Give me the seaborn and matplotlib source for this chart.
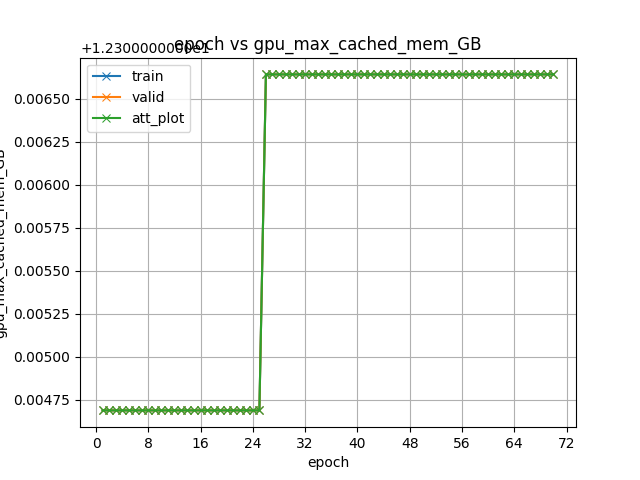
import math
import numpy as np
import pandas as pd
import matplotlib
matplotlib.use("Agg")
import matplotlib.pyplot as plt
import seaborn as sns
from matplotlib.ticker import MaxNLocator, ScalarFormatter

epochs = list(range(1, 71))
train = [12.3046875] * 25 + [12.306640625] * 45
valid = [12.3046875] * 25 + [12.306640625] * 45
att_plot = [12.3046875] * 25 + [12.306640625] * 45


class OldOffsetFormatter(ScalarFormatter):
    # offset string as written by older matplotlib releases ("%1.10f" significand)
    def format_data(self, value):
        e = math.floor(math.log10(abs(value)))
        s = round(value / 10 ** e, 10)
        significand = "%d" % s if s % 1 == 0 else "%1.10f" % s
        if e == 0:
            return significand
        return f"{significand}e{e:d}"


fig, ax = plt.subplots(figsize=(6.4, 4.8), dpi=100)
for name, vals in [("train", train), ("valid", valid), ("att_plot", att_plot)]:
    df = pd.DataFrame({"epoch": epochs, "v": vals})
    sns.lineplot(data=df, x="epoch", y="v", marker="x", label=name, ax=ax,
                 markeredgecolor=None)
ax.set_title("epoch vs gpu_max_cached_mem_GB", y=1.0)
ax.set_xlabel("epoch")
ax.set_ylabel("gpu_max_cached_mem_GB")
ax.xaxis.set_major_locator(MaxNLocator(integer=True))
ax.yaxis.set_major_formatter(OldOffsetFormatter())
ax.grid(True)
ax.legend(loc="upper left")
fig.savefig("out.png", dpi=100)
